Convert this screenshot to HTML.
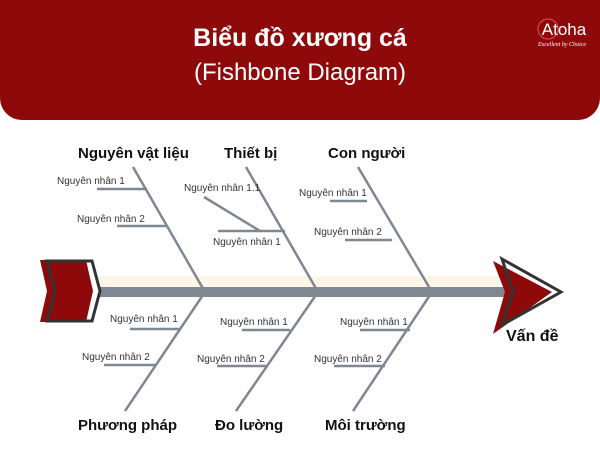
<!DOCTYPE html>
<html><head><meta charset="utf-8"><style>
html,body{margin:0;padding:0;background:#fff;}
body{width:600px;height:450px;overflow:hidden;position:relative;font-family:"Liberation Sans",sans-serif;}
.hdr{position:absolute;left:0;top:0;width:600px;height:120px;background:#8e0a0a;border-radius:0 0 22px 22px;}
</style></head><body>
<div class="hdr"></div>
<svg width="600" height="450" style="position:absolute;left:0;top:0" font-family="Liberation Sans, sans-serif">
<text x="300" y="46" fill="#fff" font-size="25" font-weight="bold" text-anchor="middle">Biểu đồ xương cá</text>
<text x="300" y="80" fill="#fff" font-size="24" text-anchor="middle">(Fishbone Diagram)</text>
<circle cx="548" cy="29" r="10" fill="none" stroke="#e04050" stroke-width="1.2"/>
<text x="564" y="35" fill="#fff" font-size="17" text-anchor="middle">Atoha</text>
<text x="562" y="46" fill="#fff" font-size="6" font-style="italic" text-anchor="middle" font-family="Liberation Serif, serif">Excellent by Choice</text>

<rect x="100" y="276" width="400" height="11" fill="#fdf5e8"/>
<rect x="100" y="287" width="405" height="10" fill="#7f8793"/>
<polygon points="40,260 86,260 93,291 86,322 40,322 47,291" fill="#8e0a0a"/>
<polygon points="47,261 92,261 100,291 92,321 47,321 55,291" fill="none" stroke="#333" stroke-width="3"/>
<polygon points="493,261 552,292 493,334 505,292" fill="#8e0a0a"/>
<polygon points="502,259 561,292 502,325 513,292" fill="none" stroke="#333" stroke-width="3"/>

<g stroke="#7f8793" stroke-width="2.5" fill="none">
<line x1="133" y1="167" x2="205" y2="292"/>
<line x1="246" y1="167" x2="318" y2="292"/>
<line x1="358" y1="167" x2="432" y2="292"/>
<line x1="205" y1="292" x2="125" y2="411"/>
<line x1="318" y1="292" x2="236" y2="411"/>
<line x1="432" y1="292" x2="353" y2="411"/>
<line x1="97" y1="189" x2="147" y2="189"/>
<line x1="117" y1="226" x2="166" y2="226"/>
<line x1="204" y1="197" x2="260" y2="231"/>
<line x1="218" y1="231" x2="285" y2="231"/>
<line x1="330" y1="201" x2="367" y2="201"/>
<line x1="345" y1="240" x2="392" y2="240"/>
<line x1="130" y1="329" x2="180" y2="329"/>
<line x1="104" y1="365" x2="155" y2="365"/>
<line x1="242" y1="330" x2="290" y2="330"/>
<line x1="217" y1="366" x2="268" y2="366"/>
<line x1="360" y1="330" x2="410" y2="330"/>
<line x1="334" y1="366" x2="385" y2="366"/>
</g>
<g font-size="10" fill="#333">
<text x="57" y="184">Nguyên nhân 1</text>
<text x="77" y="222">Nguyên nhân 2</text>
<text x="184" y="191">Nguyên nhân 1.1</text>
<text x="213" y="245">Nguyên nhân 1</text>
<text x="299" y="196">Nguyên nhân 1</text>
<text x="314" y="235">Nguyên nhân 2</text>
<text x="110" y="322">Nguyên nhân 1</text>
<text x="82" y="360">Nguyên nhân 2</text>
<text x="220" y="325">Nguyên nhân 1</text>
<text x="197" y="362">Nguyên nhân 2</text>
<text x="340" y="325">Nguyên nhân 1</text>
<text x="314" y="362">Nguyên nhân 2</text>
</g>
<g font-size="15" font-weight="bold" fill="#111">
<text x="78" y="158">Nguyên vật liệu</text>
<text x="224" y="158">Thiết bị</text>
<text x="328" y="158">Con người</text>
<text x="78" y="430">Phương pháp</text>
<text x="215" y="430">Đo lường</text>
<text x="325" y="430">Môi trường</text>
<text x="506" y="341" font-size="16">Vấn đề</text>
</g>
</svg>
</body></html>
